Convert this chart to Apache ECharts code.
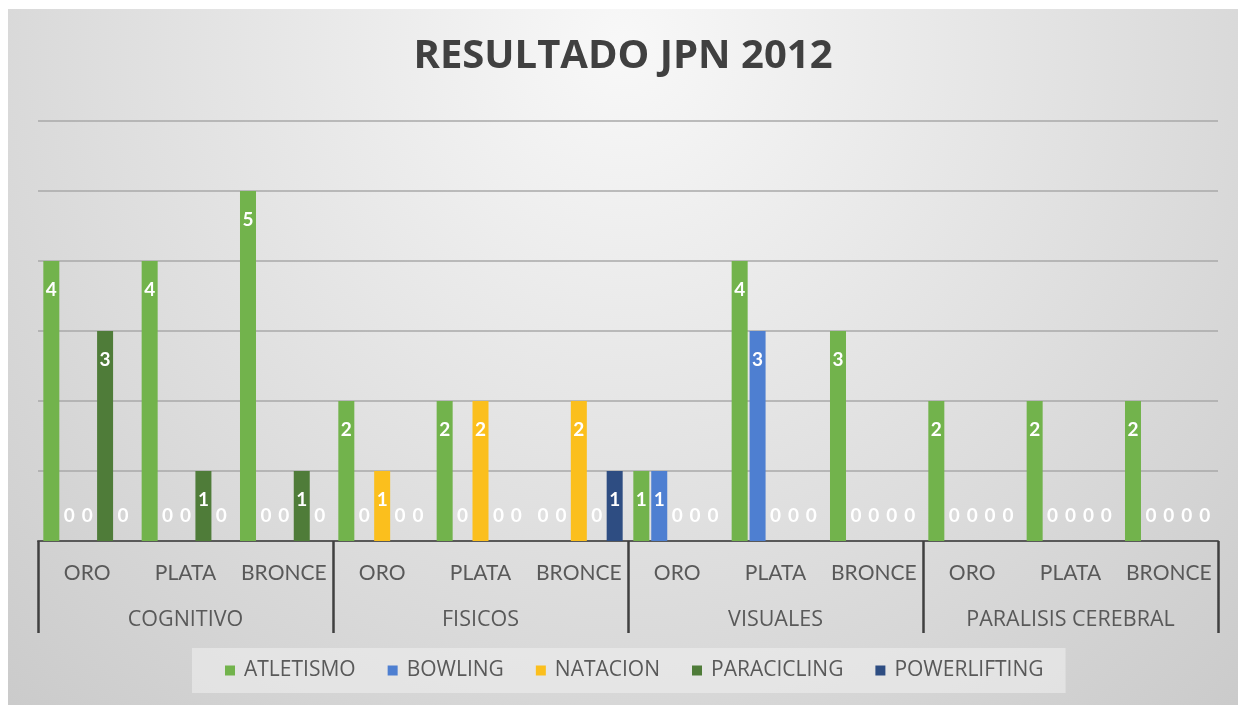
<!DOCTYPE html>
<html>
<head>
<meta charset="utf-8">
<script src="https://cdn.jsdelivr.net/npm/echarts@6/dist/echarts.min.js"></script>
<style>
  html, body { margin: 0; padding: 0; background: #fff; }
  #chart { position: absolute; left: 8px; top: 9px; width: 1230px; height: 696px; }
</style>
</head>
<body>
<div id="chart"></div>
<script>
const medals = ['ORO', 'PLATA', 'BRONCE', 'ORO', 'PLATA', 'BRONCE', 'ORO', 'PLATA', 'BRONCE', 'ORO', 'PLATA', 'BRONCE']
const groups = ['COGNITIVO', 'FISICOS', 'VISUALES', 'PARALISIS CEREBRAL']
const seriesNames = ['ATLETISMO', 'BOWLING', 'NATACION', 'PARACICLING', 'POWERLIFTING']
const colorSet = ['#72b34c', '#4e7fd1', '#fbbf1d', '#4f7c39', '#2e4d82']

const atletismo = [4, 4, 5, 2, 2, 0, 1, 4, 3, 2, 2, 2]
const bowling = [0, 0, 0, 0, 0, 0, 1, 3, 0, 0, 0, 0]
const natacion = [0, 0, 0, 1, 2, 2, 0, 0, 0, 0, 0, 0]
const paracicling = [3, 1, 1, 0, 0, 0, 0, 0, 0, 0, 0, 0]
const powerlifting = [0, 0, 0, 0, 0, 1, 0, 0, 0, 0, 0, 0]

const values = [atletismo, bowling, natacion, paracicling, powerlifting]
const font = 'Lato, "Open Sans", sans-serif'
const wideFont = '"Open Sans", Lato, sans-serif'

// zero values: label sits just above the axis like Excel does
const toData = (arr) => arr.map(v => v === 0
  ? { value: v, label: { position: 'insideBottom', distance: 16 } }
  : v)

const series = seriesNames.map((name, i) => ({
  name: name,
  type: 'bar',
  barWidth: 16,
  barGap: '12%',
  data: toData(values[i]),
  itemStyle: { color: colorSet[i] },
  label: {
    show: true,
    position: 'insideTop',
    distance: 19,
    color: '#fff',
    fontSize: 19,
    fontWeight: 'bold',
    fontFamily: font,
  },
}))

const option = {
  backgroundColor: {
    type: 'radial', x: 0.5, y: 0.05, r: 1.35,
    colorStops: [
      { offset: 0, color: '#f8f8f8' },
      { offset: 1, color: '#c9c9c9' },
    ],
  },
  animation: false,
  title: {
    text: 'RESULTADO JPN 2012',
    left: 'center',
    top: 23,
    textStyle: { fontSize: 40, fontWeight: 'bold', color: '#404040', fontFamily: wideFont },
  },
  legend: {
    data: seriesNames,
    left: 184,
    top: 639,
    padding: [12, 22, 12, 33],
    backgroundColor: 'rgba(240,240,240,0.55)',
    itemWidth: 10,
    itemHeight: 10,
    itemGap: 32,
    icon: 'rect',
    textStyle: { fontSize: 21, color: '#595959', fontFamily: wideFont, padding: [0, 0, 0, 4] },
  },
  grid: { left: 30, top: 112, width: 1180, height: 420 },
  xAxis: [
    {
      type: 'category',
      data: medals,
      position: 'bottom',
      axisLine: { lineStyle: { color: '#595959', width: 2 } },
      axisTick: { show: false },
      axisLabel: { margin: 22, fontSize: 21, color: '#595959', fontFamily: font, interval: 0 },
    },
    {
      type: 'category',
      data: groups,
      position: 'bottom',
      axisLine: { show: false },
      axisTick: { show: true, length: 92, lineStyle: { color: '#404040', width: 2.5 } },
      axisLabel: { margin: 68, fontSize: 21.5, color: '#595959', fontFamily: wideFont, interval: 0 },
    },
  ],
  yAxis: {
    type: 'value',
    min: 0,
    max: 6,
    interval: 1,
    axisLabel: { show: false },
    axisLine: { show: false },
    axisTick: { show: false },
    splitLine: { lineStyle: { color: '#a9a9a9', width: 1.5 } },
  },
  series: series,
}

const chart = echarts.init(document.getElementById('chart'))
chart.setOption(option)
</script>
</body>
</html>
